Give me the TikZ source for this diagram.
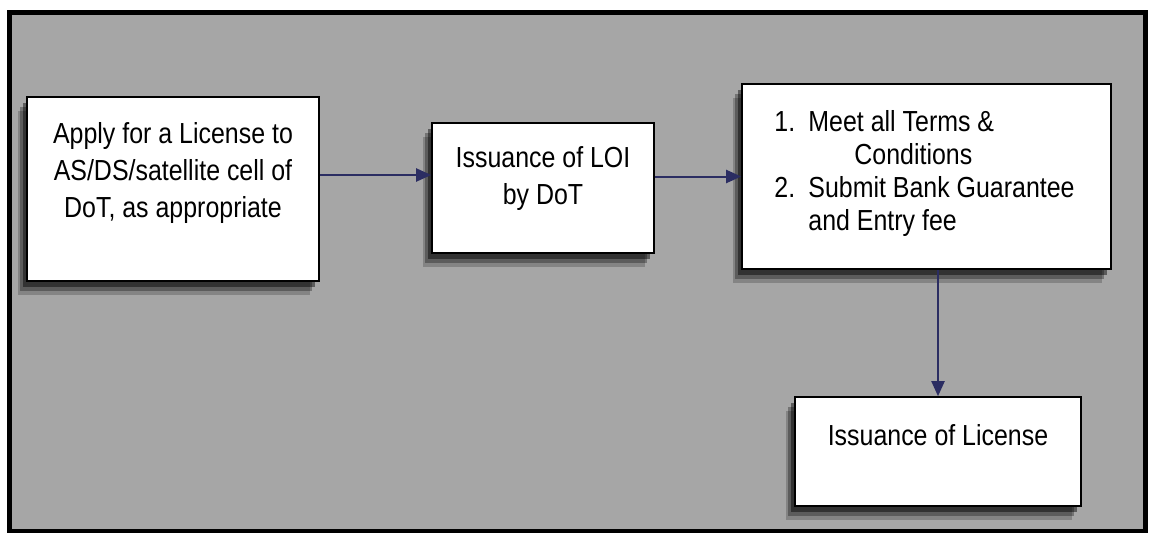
\documentclass[tikz,border=0pt]{standalone}
\usepackage{fontspec}
\setmainfont{Liberation Sans}[FakeStretch=0.86]
\usetikzlibrary{arrows.meta,shadows}
\definecolor{bg}{HTML}{A6A6A6}
\definecolor{navy}{HTML}{2B2D62}

\begin{document}
\begin{tikzpicture}
[x=0.5pt,y=0.5pt,
 ar/.style={draw=navy,line width=1pt,-{Triangle[length=7.5pt,width=6.5pt]}},
 bx/.style={draw=black,fill=white,line width=0.8pt,inner sep=0pt,
   drop shadow={shadow xshift=-4.5pt,shadow yshift=-7pt,opacity=.2,fill=black},
   drop shadow={shadow xshift=-3.5pt,shadow yshift=-5pt,opacity=.3,fill=black},
   drop shadow={shadow xshift=-2pt,shadow yshift=-3pt,opacity=.45,fill=black}},
 tx/.style={font=\fontsize{14.5}{18.5}\selectfont,align=center,inner sep=0pt}]
\useasboundingbox (0,0) rectangle (1149,532);
\draw [line width=2.5pt,fill=bg] (9.5,1) rectangle (1145.5,519.5);

\node [bx,minimum width=146pt,minimum height=92pt,
  label={[tx,yshift=8pt]center:{Apply for a License to\\AS/DS/satellite cell of\\DoT, as appropriate}}]
  at (173,343) (apply) {};
\node [bx,minimum width=111pt,minimum height=65pt,
  label={[tx,yshift=4.5pt]center:{Issuance of LOI\\by DoT}}]
  at (543,344) (loi) {};
\node [bx,minimum width=184.5pt,minimum height=92.5pt,
  label={[tx,align=left,font=\fontsize{14.5}{16.5}\selectfont,yshift=1.5pt,xshift=-1pt]center:{%
    \makebox[17pt][l]{1.}Meet all Terms \&\\
    \hspace*{40pt}Conditions\\
    \makebox[17pt][l]{2.}Submit Bank Guarantee\\
    \hspace*{17pt}and Entry fee}}]
  at (926.5,355.5) (terms) {};
\node [bx,minimum width=143pt,minimum height=54.5pt,
  label={[tx,yshift=8pt]center:{Issuance of License}}]
  at (938,80.5) (license) {};

\draw [ar] ([yshift=7pt]apply.east) -- ([yshift=6.5pt]loi.west);
\draw [ar] (loi.east |- terms.west) -- (terms.west);
\draw [ar] (license.north |- terms.south) -- (license.north);
\end{tikzpicture}
\end{document}
